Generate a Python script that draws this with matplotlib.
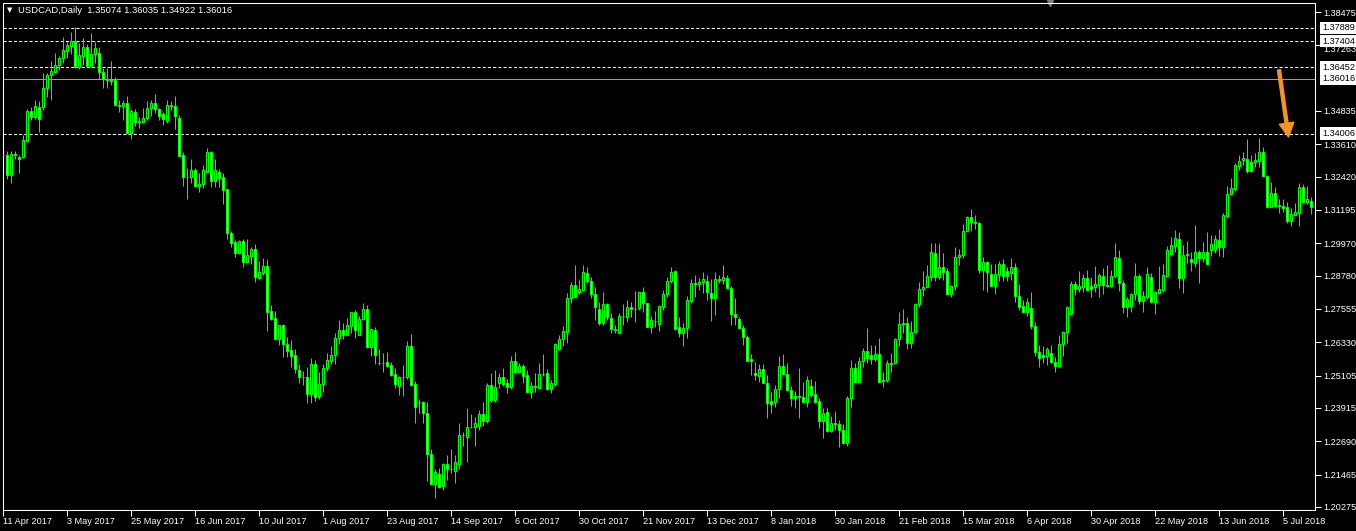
import numpy as np
from matplotlib import pyplot as plt
from matplotlib.transforms import blended_transform_factory

symbol = "USDCAD,Daily"
last_ohlc = "1.35074 1.36035 1.34922 1.36016"

# daily bars, 11 Apr 2017 -> mid Jul 2018
opens = [
    1.3323, 1.3320, 1.3249, 1.3324, 1.3314, 1.3313, 1.3374, 1.3482, 1.3463, 1.3497,
    1.3497, 1.3567, 1.3616, 1.3628, 1.3651, 1.3677, 1.3705, 1.3724, 1.3740, 1.3645,
    1.3687, 1.3718, 1.3650, 1.3692, 1.3696, 1.3628, 1.3600, 1.3596, 1.3598, 1.3506,
    1.3502, 1.3512, 1.3401, 1.3481, 1.3443, 1.3444, 1.3457, 1.3496, 1.3512, 1.3490,
    1.3471, 1.3448, 1.3504, 1.3502, 1.3457, 1.3320, 1.3240, 1.3242, 1.3267, 1.3209,
    1.3214, 1.3260, 1.3331, 1.3227, 1.3258, 1.3241, 1.3195, 1.3034, 1.3001, 1.2960,
    1.3005, 1.2929, 1.2951, 1.2976, 1.2871, 1.2889, 1.2912, 1.2747, 1.2721, 1.2644,
    1.2697, 1.2625, 1.2605, 1.2585, 1.2531, 1.2507, 1.2507, 1.2442, 1.2553, 1.2437,
    1.2478, 1.2537, 1.2565, 1.2586, 1.2648, 1.2677, 1.2661, 1.2693, 1.2743, 1.2661,
    1.2717, 1.2755, 1.2614, 1.2678, 1.2556, 1.2558, 1.2559, 1.2548, 1.2515, 1.2473,
    1.2505, 1.2507, 1.2619, 1.2478, 1.2413, 1.2413, 1.2372, 1.2221, 1.2111, 1.2147,
    1.2106, 1.2184, 1.2167, 1.2161, 1.2184, 1.2291, 1.2286, 1.2320, 1.2323, 1.2326,
    1.2368, 1.2345, 1.2475, 1.2421, 1.2482, 1.2507, 1.2482, 1.2470, 1.2564, 1.2524,
    1.2546, 1.2513, 1.2451, 1.2472, 1.2465, 1.2516, 1.2519, 1.2462, 1.2480, 1.2610,
    1.2644, 1.2672, 1.2795, 1.2842, 1.2817, 1.2825, 1.2887, 1.2860, 1.2809, 1.2754,
    1.2703, 1.2774, 1.2724, 1.2681, 1.2668, 1.2729, 1.2727, 1.2762, 1.2755, 1.2758,
    1.2817, 1.2776, 1.2690, 1.2713, 1.2700, 1.2764, 1.2809, 1.2860, 1.2895, 1.2688,
    1.2668, 1.2684, 1.2786, 1.2850, 1.2846, 1.2854, 1.2860, 1.2816, 1.2795, 1.2865,
    1.2862, 1.2871, 1.2831, 1.2736, 1.2717, 1.2684, 1.2651, 1.2570, 1.2519, 1.2509,
    1.2535, 1.2482, 1.2417, 1.2415, 1.2460, 1.2546, 1.2516, 1.2458, 1.2436, 1.2433,
    1.2433, 1.2415, 1.2472, 1.2443, 1.2416, 1.2345, 1.2377, 1.2308, 1.2338, 1.2331,
    1.2311, 1.2264, 1.2427, 1.2537, 1.2488, 1.2564, 1.2601, 1.2586, 1.2573, 1.2590,
    1.2490, 1.2496, 1.2556, 1.2556, 1.2645, 1.2699, 1.2703, 1.2629, 1.2672, 1.2773,
    1.2828, 1.2835, 1.2872, 1.2960, 1.2872, 1.2909, 1.2895, 1.2809, 1.2840, 1.2948,
    1.2954, 1.3043, 1.3092, 1.3077, 1.3070, 1.2899, 1.2927, 1.2883, 1.2841, 1.2880,
    1.2920, 1.2895, 1.2887, 1.2909, 1.2804, 1.2766, 1.2746, 1.2758, 1.2694, 1.2599,
    1.2586, 1.2584, 1.2592, 1.2562, 1.2547, 1.2625, 1.2670, 1.2736, 1.2846, 1.2829,
    1.2838, 1.2868, 1.2840, 1.2838, 1.2844, 1.2878, 1.2844, 1.2840, 1.2877, 1.2942,
    1.2850, 1.2764, 1.2768, 1.2809, 1.2877, 1.2786, 1.2801, 1.2872, 1.2782, 1.2815,
    1.2825, 1.2877, 1.2958, 1.2988, 1.3013, 1.2871, 1.2954, 1.2938, 1.2926, 1.2964,
    1.2942, 1.2966, 1.2972, 1.2972, 1.3009, 1.2982, 1.3099, 1.3177, 1.3197, 1.3281,
    1.3303, 1.3306, 1.3295, 1.3295, 1.3301, 1.3332, 1.3246, 1.3132, 1.3181, 1.3135,
    1.3135, 1.3129, 1.3080, 1.3101, 1.3110, 1.3203, 1.3149, 1.3153,
]
highs = [
    1.3355, 1.3336, 1.3336, 1.3336, 1.3322, 1.3395, 1.3490, 1.3497, 1.3524, 1.3520,
    1.3624, 1.3624, 1.3666, 1.3698, 1.3686, 1.3754, 1.3737, 1.3774, 1.3791, 1.3735,
    1.3751, 1.3730, 1.3769, 1.3738, 1.3718, 1.3640, 1.3640, 1.3667, 1.3607, 1.3524,
    1.3524, 1.3539, 1.3492, 1.3492, 1.3463, 1.3494, 1.3522, 1.3524, 1.3546, 1.3493,
    1.3481, 1.3524, 1.3520, 1.3539, 1.3470, 1.3334, 1.3273, 1.3306, 1.3275, 1.3254,
    1.3285, 1.3346, 1.3336, 1.3306, 1.3271, 1.3254, 1.3198, 1.3042, 1.3009, 1.3009,
    1.3012, 1.3012, 1.2985, 1.2994, 1.2932, 1.2942, 1.2939, 1.2770, 1.2748, 1.2697,
    1.2700, 1.2654, 1.2641, 1.2607, 1.2553, 1.2529, 1.2541, 1.2574, 1.2568, 1.2525,
    1.2553, 1.2592, 1.2619, 1.2668, 1.2715, 1.2705, 1.2721, 1.2746, 1.2752, 1.2730,
    1.2779, 1.2770, 1.2681, 1.2688, 1.2608, 1.2592, 1.2597, 1.2561, 1.2537, 1.2510,
    1.2549, 1.2638, 1.2663, 1.2491, 1.2423, 1.2417, 1.2415, 1.2239, 1.2167, 1.2170,
    1.2188, 1.2219, 1.2239, 1.2219, 1.2336, 1.2304, 1.2390, 1.2369, 1.2360, 1.2384,
    1.2412, 1.2485, 1.2519, 1.2531, 1.2521, 1.2539, 1.2498, 1.2583, 1.2597, 1.2556,
    1.2553, 1.2531, 1.2488, 1.2519, 1.2557, 1.2590, 1.2535, 1.2494, 1.2632, 1.2660,
    1.2693, 1.2813, 1.2856, 1.2917, 1.2862, 1.2917, 1.2909, 1.2874, 1.2835, 1.2782,
    1.2817, 1.2779, 1.2740, 1.2697, 1.2740, 1.2774, 1.2789, 1.2780, 1.2822, 1.2819,
    1.2835, 1.2779, 1.2730, 1.2748, 1.2770, 1.2825, 1.2872, 1.2909, 1.2899, 1.2727,
    1.2703, 1.2805, 1.2865, 1.2881, 1.2868, 1.2890, 1.2881, 1.2865, 1.2893, 1.2881,
    1.2917, 1.2881, 1.2840, 1.2795, 1.2727, 1.2697, 1.2660, 1.2589, 1.2559, 1.2552,
    1.2552, 1.2513, 1.2451, 1.2476, 1.2583, 1.2589, 1.2556, 1.2472, 1.2454, 1.2540,
    1.2488, 1.2509, 1.2497, 1.2491, 1.2427, 1.2390, 1.2390, 1.2363, 1.2380, 1.2347,
    1.2333, 1.2437, 1.2568, 1.2556, 1.2580, 1.2611, 1.2684, 1.2623, 1.2623, 1.2648,
    1.2523, 1.2568, 1.2592, 1.2648, 1.2746, 1.2755, 1.2727, 1.2711, 1.2776, 1.2856,
    1.2896, 1.2917, 1.2999, 1.2997, 1.2999, 1.2960, 1.2905, 1.2844, 1.2985, 1.2975,
    1.3068, 1.3099, 1.3123, 1.3101, 1.3074, 1.2948, 1.2933, 1.2921, 1.2921, 1.2932,
    1.2938, 1.2911, 1.2942, 1.2923, 1.2847, 1.2788, 1.2797, 1.2817, 1.2706, 1.2623,
    1.2621, 1.2617, 1.2623, 1.2578, 1.2660, 1.2675, 1.2768, 1.2858, 1.2858, 1.2896,
    1.2884, 1.2899, 1.2872, 1.2914, 1.2889, 1.2905, 1.2917, 1.2899, 1.2997, 1.2972,
    1.2862, 1.2798, 1.2815, 1.2923, 1.2883, 1.2820, 1.2909, 1.2889, 1.2823, 1.2913,
    1.2921, 1.2987, 1.3019, 1.3046, 1.3039, 1.2991, 1.3005, 1.2964, 1.3064, 1.2972,
    1.3002, 1.3039, 1.3028, 1.3028, 1.3050, 1.3110, 1.3208, 1.3236, 1.3291, 1.3322,
    1.3334, 1.3381, 1.3322, 1.3330, 1.3383, 1.3350, 1.3248, 1.3224, 1.3205, 1.3160,
    1.3160, 1.3150, 1.3126, 1.3146, 1.3217, 1.3215, 1.3208, 1.3168,
]
lows = [
    1.3306, 1.3235, 1.3220, 1.3306, 1.3257, 1.3309, 1.3371, 1.3451, 1.3455, 1.3408,
    1.3487, 1.3536, 1.3524, 1.3622, 1.3634, 1.3661, 1.3677, 1.3694, 1.3640, 1.3637,
    1.3653, 1.3647, 1.3647, 1.3661, 1.3600, 1.3567, 1.3567, 1.3579, 1.3502, 1.3481,
    1.3451, 1.3401, 1.3382, 1.3428, 1.3422, 1.3441, 1.3451, 1.3466, 1.3475, 1.3451,
    1.3432, 1.3438, 1.3487, 1.3419, 1.3313, 1.3208, 1.3161, 1.3220, 1.3205, 1.3186,
    1.3202, 1.3258, 1.3205, 1.3205, 1.3205, 1.3141, 1.3012, 1.2985, 1.2945, 1.2958,
    1.2911, 1.2926, 1.2921, 1.2856, 1.2867, 1.2880, 1.2676, 1.2715, 1.2641, 1.2623,
    1.2578, 1.2578, 1.2541, 1.2519, 1.2482, 1.2476, 1.2411, 1.2411, 1.2418, 1.2426,
    1.2449, 1.2529, 1.2553, 1.2554, 1.2627, 1.2645, 1.2660, 1.2668, 1.2650, 1.2660,
    1.2715, 1.2611, 1.2584, 1.2554, 1.2549, 1.2525, 1.2541, 1.2510, 1.2464, 1.2439,
    1.2437, 1.2498, 1.2473, 1.2337, 1.2374, 1.2335, 1.2124, 1.2108, 1.2059, 1.2096,
    1.2090, 1.2127, 1.2154, 1.2117, 1.2167, 1.2253, 1.2194, 1.2319, 1.2253, 1.2311,
    1.2326, 1.2336, 1.2415, 1.2415, 1.2464, 1.2474, 1.2445, 1.2460, 1.2519, 1.2519,
    1.2482, 1.2448, 1.2429, 1.2451, 1.2461, 1.2509, 1.2458, 1.2448, 1.2472, 1.2605,
    1.2621, 1.2632, 1.2779, 1.2798, 1.2811, 1.2822, 1.2852, 1.2797, 1.2715, 1.2697,
    1.2697, 1.2715, 1.2666, 1.2666, 1.2668, 1.2697, 1.2709, 1.2727, 1.2709, 1.2752,
    1.2746, 1.2688, 1.2668, 1.2690, 1.2676, 1.2752, 1.2801, 1.2850, 1.2678, 1.2654,
    1.2621, 1.2650, 1.2779, 1.2801, 1.2825, 1.2813, 1.2789, 1.2713, 1.2733, 1.2850,
    1.2847, 1.2828, 1.2697, 1.2697, 1.2681, 1.2623, 1.2565, 1.2513, 1.2494, 1.2488,
    1.2482, 1.2353, 1.2374, 1.2396, 1.2427, 1.2513, 1.2455, 1.2399, 1.2390, 1.2356,
    1.2409, 1.2396, 1.2433, 1.2411, 1.2317, 1.2280, 1.2304, 1.2304, 1.2311, 1.2247,
    1.2258, 1.2252, 1.2396, 1.2487, 1.2487, 1.2543, 1.2556, 1.2553, 1.2565, 1.2485,
    1.2470, 1.2488, 1.2525, 1.2553, 1.2621, 1.2666, 1.2608, 1.2613, 1.2666, 1.2762,
    1.2803, 1.2835, 1.2860, 1.2858, 1.2864, 1.2862, 1.2807, 1.2801, 1.2825, 1.2917,
    1.2942, 1.3042, 1.3042, 1.3050, 1.2887, 1.2825, 1.2819, 1.2838, 1.2811, 1.2860,
    1.2858, 1.2858, 1.2862, 1.2782, 1.2752, 1.2742, 1.2730, 1.2682, 1.2583, 1.2543,
    1.2556, 1.2549, 1.2556, 1.2525, 1.2543, 1.2583, 1.2629, 1.2733, 1.2807, 1.2819,
    1.2819, 1.2823, 1.2801, 1.2818, 1.2801, 1.2811, 1.2838, 1.2838, 1.2874, 1.2823,
    1.2740, 1.2727, 1.2746, 1.2788, 1.2774, 1.2746, 1.2791, 1.2776, 1.2737, 1.2811,
    1.2819, 1.2874, 1.2954, 1.2966, 1.2834, 1.2815, 1.2926, 1.2896, 1.2909, 1.2852,
    1.2929, 1.2917, 1.2950, 1.2963, 1.2950, 1.2948, 1.3089, 1.3175, 1.3189, 1.3266,
    1.3285, 1.3257, 1.3260, 1.3276, 1.3276, 1.3240, 1.3126, 1.3129, 1.3129, 1.3110,
    1.3113, 1.3070, 1.3062, 1.3101, 1.3062, 1.3146, 1.3142, 1.3105,
]
closes = [
    1.3321, 1.3249, 1.3324, 1.3323, 1.3307, 1.3377, 1.3484, 1.3463, 1.3501, 1.3455,
    1.3567, 1.3616, 1.3631, 1.3651, 1.3677, 1.3707, 1.3726, 1.3742, 1.3645, 1.3689,
    1.3718, 1.3650, 1.3692, 1.3714, 1.3628, 1.3600, 1.3596, 1.3595, 1.3506, 1.3502,
    1.3512, 1.3401, 1.3484, 1.3443, 1.3446, 1.3457, 1.3496, 1.3512, 1.3490, 1.3466,
    1.3453, 1.3504, 1.3502, 1.3466, 1.3318, 1.3240, 1.3242, 1.3267, 1.3209, 1.3215,
    1.3267, 1.3331, 1.3227, 1.3267, 1.3238, 1.3193, 1.3034, 1.2999, 1.2960, 1.3005,
    1.2929, 1.2954, 1.2976, 1.2872, 1.2890, 1.2913, 1.2746, 1.2719, 1.2644, 1.2697,
    1.2625, 1.2602, 1.2584, 1.2535, 1.2504, 1.2505, 1.2442, 1.2553, 1.2431, 1.2478,
    1.2537, 1.2568, 1.2586, 1.2648, 1.2677, 1.2661, 1.2695, 1.2743, 1.2678, 1.2717,
    1.2755, 1.2617, 1.2681, 1.2585, 1.2556, 1.2557, 1.2547, 1.2513, 1.2478, 1.2507,
    1.2507, 1.2619, 1.2476, 1.2396, 1.2412, 1.2372, 1.2221, 1.2111, 1.2157, 1.2102,
    1.2185, 1.2167, 1.2167, 1.2192, 1.2291, 1.2291, 1.2320, 1.2323, 1.2335, 1.2368,
    1.2345, 1.2476, 1.2421, 1.2467, 1.2504, 1.2480, 1.2470, 1.2564, 1.2525, 1.2546,
    1.2510, 1.2451, 1.2472, 1.2470, 1.2516, 1.2515, 1.2462, 1.2482, 1.2627, 1.2644,
    1.2675, 1.2795, 1.2844, 1.2801, 1.2829, 1.2890, 1.2858, 1.2809, 1.2762, 1.2703,
    1.2773, 1.2727, 1.2681, 1.2678, 1.2730, 1.2729, 1.2762, 1.2754, 1.2757, 1.2817,
    1.2776, 1.2690, 1.2715, 1.2711, 1.2767, 1.2809, 1.2860, 1.2893, 1.2681, 1.2668,
    1.2684, 1.2789, 1.2850, 1.2846, 1.2854, 1.2865, 1.2817, 1.2795, 1.2866, 1.2863,
    1.2874, 1.2831, 1.2736, 1.2725, 1.2684, 1.2651, 1.2565, 1.2563, 1.2512, 1.2535,
    1.2485, 1.2409, 1.2405, 1.2460, 1.2546, 1.2516, 1.2458, 1.2427, 1.2428, 1.2437,
    1.2415, 1.2494, 1.2439, 1.2415, 1.2345, 1.2372, 1.2308, 1.2335, 1.2333, 1.2311,
    1.2264, 1.2427, 1.2540, 1.2488, 1.2564, 1.2601, 1.2576, 1.2573, 1.2590, 1.2488,
    1.2496, 1.2556, 1.2553, 1.2645, 1.2699, 1.2703, 1.2629, 1.2672, 1.2773, 1.2828,
    1.2835, 1.2878, 1.2964, 1.2872, 1.2909, 1.2893, 1.2809, 1.2840, 1.2948, 1.2954,
    1.3043, 1.3092, 1.3077, 1.3070, 1.2899, 1.2927, 1.2893, 1.2841, 1.2883, 1.2920,
    1.2877, 1.2878, 1.2909, 1.2804, 1.2764, 1.2746, 1.2780, 1.2694, 1.2599, 1.2576,
    1.2578, 1.2607, 1.2562, 1.2547, 1.2625, 1.2670, 1.2762, 1.2846, 1.2829, 1.2840,
    1.2868, 1.2825, 1.2830, 1.2846, 1.2880, 1.2844, 1.2840, 1.2878, 1.2945, 1.2850,
    1.2764, 1.2791, 1.2811, 1.2877, 1.2786, 1.2803, 1.2883, 1.2780, 1.2817, 1.2828,
    1.2880, 1.2972, 1.2991, 1.3015, 1.2871, 1.2954, 1.2956, 1.2927, 1.2964, 1.2942,
    1.2966, 1.2921, 1.2993, 1.3012, 1.2982, 1.3101, 1.3178, 1.3199, 1.3285, 1.3301,
    1.3309, 1.3264, 1.3264, 1.3303, 1.3334, 1.3246, 1.3132, 1.3181, 1.3134, 1.3138,
    1.3128, 1.3080, 1.3103, 1.3113, 1.3203, 1.3149, 1.3159, 1.3132,
]

date_labels = [
    "11 Apr 2017", "3 May 2017", "25 May 2017", "16 Jun 2017", "10 Jul 2017",
    "1 Aug 2017", "23 Aug 2017", "14 Sep 2017", "6 Oct 2017", "30 Oct 2017",
    "21 Nov 2017", "13 Dec 2017", "8 Jan 2018", "30 Jan 2018", "21 Feb 2018",
    "15 Mar 2018", "6 Apr 2018", "30 Apr 2018", "22 May 2018", "13 Jun 2018",
    "5 Jul 2018",
]
bars_per_label = 16

price_ticks = [1.38475, 1.37263, 1.34835, 1.33610, 1.32420, 1.31195,
               1.29970, 1.28780, 1.27555, 1.26330, 1.25105, 1.23915, 1.22690,
               1.21465, 1.20275]
level_lines = [1.37889, 1.37404, 1.36452, 1.34006]
bid_price = 1.36016

GREEN = "#00ff00"
W, H = 1356, 531


def main():
    plt.rcParams.update({
        "font.family": ["Liberation Sans", "DejaVu Sans"],
        "font.size": 6.6,
    })

    fig = plt.figure(figsize=(W / 100, H / 100), dpi=100, facecolor="black")
    ax = fig.add_axes([3 / W, 21 / H, 1312 / W, 507 / H], facecolor="black")

    o = np.array(opens)
    c = np.array(closes)
    x = np.arange(len(c))

    # wicks then bodies (bull = hollow/black, bear = white)
    ax.vlines(x, lows, highs, color=GREEN, lw=0.75, zorder=2)
    fills = np.where(c >= o, "black", "white")
    ax.bar(x, c - o, bottom=o, width=0.5, color=fills, edgecolor=GREEN,
           linewidth=0.75, zorder=3)

    for lvl in level_lines:
        ax.axhline(lvl, color="white", lw=0.75, ls=(0, (3, 2)), zorder=1)
    ax.axhline(bid_price, color="#9c9c9c", lw=0.75, zorder=1)

    ax.set_xlim(-0.1, 327.9)
    ax.set_ylim(1.20164, 1.38806)

    # price scale on the right
    ax.yaxis.tick_right()
    ax.set_yticks(price_ticks)
    ax.set_yticklabels([f"{p:.5f}" for p in price_ticks])
    ax.tick_params(axis="y", colors="white", length=4, width=0.75, pad=2,
                   labelsize=6.6)
    # the 1.37263 scale label sits half hidden under the 1.37404 box
    ax.get_yticklabels()[1].set_va("top")

    trans = blended_transform_factory(ax.transAxes, ax.transData)
    for lvl in level_lines + [bid_price]:
        ax.annotate(f"{lvl:.5f}", xy=(1, lvl), xycoords=trans,
                    xytext=(5, 0), textcoords="offset points",
                    ha="left", va="center", color="black", fontsize=6.6,
                    bbox=dict(boxstyle="square,pad=0.2", fc="white", ec="none"),
                    annotation_clip=False, zorder=5)

    # time scale
    ticks = list(range(0, bars_per_label * len(date_labels), bars_per_label))
    ax.set_xticks(ticks)
    ax.set_xticklabels(date_labels, ha="left")
    ax.tick_params(axis="x", colors="white", length=4, width=0.75, pad=1,
                   labelsize=6.6)

    for s in ax.spines.values():
        s.set_color("white")
        s.set_linewidth(0.75)

    # header
    fig.text(7 / W, 1 - 10.5 / H, "\u25bc", color="white", fontsize=5,
             family="DejaVu Sans", va="center")
    fig.text(18 / W, 1 - 10.5 / H, f"{symbol}  {last_ohlc}", color="white",
             fontsize=6.8, va="center")

    # chart shift marker
    ax.plot([(1050 - 3) / 1312], [1.0], marker="v", ms=5, color="#7a7a7a",
            transform=ax.transAxes, clip_on=False)

    # hand drawn arrow
    ax.annotate("", xy=(1288.5, H - 137), xytext=(1279, H - 70),
                xycoords="figure pixels", textcoords="figure pixels",
                arrowprops=dict(facecolor="#f7931e", edgecolor="#f7931e",
                                width=2.2, headwidth=10.5, headlength=10,
                                shrink=0))

    fig.savefig("out.png", dpi=100, facecolor="black")


if __name__ == '__main__':
    main()
